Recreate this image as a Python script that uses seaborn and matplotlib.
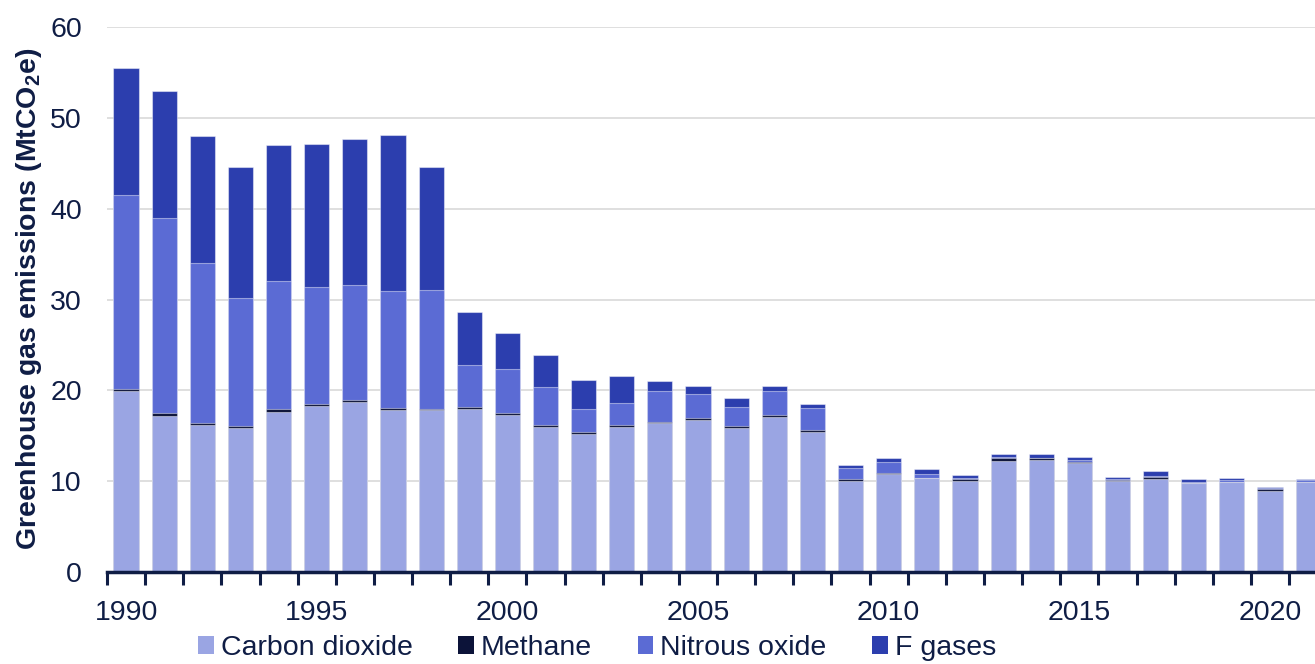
import pandas as pd
import matplotlib.pyplot as plt
import seaborn as sns
from matplotlib.patches import Patch
from matplotlib.ticker import FixedLocator

years = list(range(1990, 2022))
carbon_dioxide = [19.9, 17.2, 16.2, 15.8, 17.6, 18.3, 18.7, 17.8, 17.8, 17.9,
                  17.3, 16.0, 15.2, 16.0, 16.4, 16.7, 15.9, 17.1, 15.4, 10.05,
                  10.75, 10.3, 10.0, 12.25, 12.35, 11.95, 10.0, 10.25, 9.75, 9.9,
                  8.95, 9.9]
methane = [0.3, 0.3, 0.25, 0.25, 0.3, 0.15, 0.2, 0.25, 0.15, 0.3,
           0.15, 0.15, 0.2, 0.15, 0.15, 0.2, 0.2, 0.15, 0.2, 0.2,
           0.2, 0.05, 0.2, 0.25, 0.2, 0.2, 0.15, 0.2, 0.05, 0.05,
           0.2, 0.05]
nitrous_oxide = [21.35, 21.45, 17.55, 14.15, 14.15, 12.95, 12.75, 12.85, 13.05, 4.55,
                 4.85, 4.2, 2.6, 2.5, 3.4, 2.75, 2.1, 2.65, 2.5, 1.2,
                 1.2, 0.45, 0.15, 0.15, 0.05, 0.15, 0.05, 0.1, 0.1, 0.15,
                 0.05, 0.15]
f_gases = [13.9, 14.0, 14.0, 14.4, 15.0, 15.7, 16.0, 17.2, 13.6, 5.9,
           4.0, 3.55, 3.15, 2.95, 1.1, 0.85, 1.0, 0.6, 0.4, 0.3,
           0.4, 0.55, 0.3, 0.3, 0.35, 0.35, 0.3, 0.55, 0.35, 0.3,
           0.2, 0.15]

labels = ["Carbon dioxide", "Methane", "Nitrous oxide", "F gases"]
colors = ["#9aa5e3", "#0c1339", "#5b6bd4", "#2c3eae"]
text_col = "#0f1d45"

df = pd.DataFrame({"year": [str(y) for y in years],
                   "co2": carbon_dioxide, "ch4": methane,
                   "n2o": nitrous_oxide, "f": f_gases})
# cumulative totals, drawn tallest first so each layer sits on the one below
df["l1"] = df["co2"]
df["l2"] = df["l1"] + df["ch4"]
df["l3"] = df["l2"] + df["n2o"]
df["l4"] = df["l3"] + df["f"]

sns.set_style("white")
plt.rcParams["font.family"] = ["Liberation Sans", "DejaVu Sans"]
plt.rcParams["mathtext.fontset"] = "custom"
plt.rcParams["mathtext.rm"] = "Liberation Sans:bold"
plt.rcParams["mathtext.bf"] = "Liberation Sans:bold"

fig = plt.figure(figsize=(13.15, 6.64), dpi=100)
ax = fig.add_axes([107 / 1315, 1 - 572 / 664, 1 - 107 / 1315, 545 / 664])

for col, c in zip(["l4", "l3", "l2", "l1"], colors[::-1]):
    sns.barplot(data=df, x="year", y=col, color=c, width=0.66, ax=ax,
                edgecolor=(1, 1, 1, 0.45), linewidth=0.8, saturation=1, zorder=3)

ax.set_ylim(0, 60)
ax.set_xlim(-0.5, 31.18)
ax.set_yticks(range(0, 61, 10))
ax.yaxis.grid(True, color="#d9d9d9", lw=1.2, zorder=0)
ax.set_axisbelow(True)

major = [i for i, y in enumerate(years) if y % 5 == 0]
ax.set_xticks(major)
ax.set_xticklabels([str(years[i]) for i in major])
ax.xaxis.set_minor_locator(FixedLocator([i - 0.5 for i in range(len(years) + 1)]))
ax.tick_params(axis="x", which="major", bottom=True, length=0, pad=20,
               labelsize=20.5, labelcolor=text_col)
ax.tick_params(axis="x", which="minor", bottom=True, length=9, width=2.2,
               color=text_col, direction="out")
ax.tick_params(axis="y", length=0, pad=18, labelsize=20.5, labelcolor=text_col)

for s in ["top", "right", "left"]:
    ax.spines[s].set_visible(False)
ax.spines["bottom"].set_color(text_col)
ax.spines["bottom"].set_linewidth(2.5)
ax.spines["bottom"].set_zorder(5)

ax.set_xlabel("")
ax.set_ylabel(r"Greenhouse gas emissions (MtCO$_\mathbf{2}$e)", fontsize=20.5,
              fontweight="bold", color=text_col)
ax.yaxis.set_label_coords((44 - 107) / 1208, 0.502)

handles = [Patch(facecolor=c, edgecolor="none") for c in colors]
fig.legend(handles, labels, loc="center", bbox_to_anchor=(0.454, 1 - 648 / 664),
           ncol=4, frameon=False, fontsize=20.5, labelcolor=text_col,
           handlelength=0.55, handleheight=0.55, handletextpad=0.25,
           columnspacing=1.6)

fig.savefig("out.png", dpi=100)
